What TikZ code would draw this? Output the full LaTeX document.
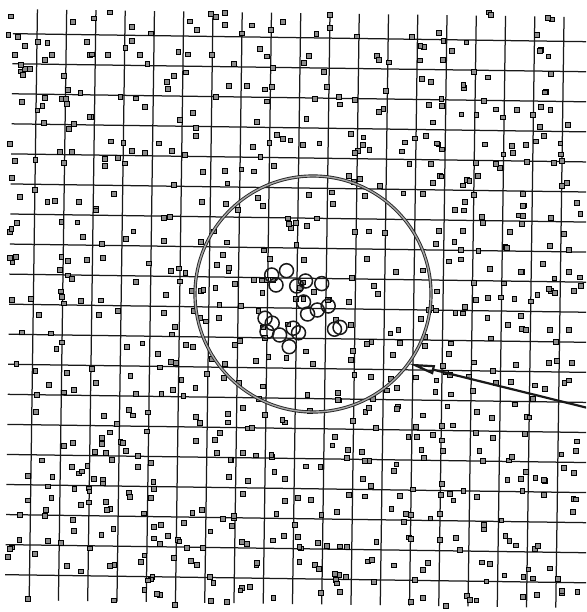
\documentclass[tikz,border=0pt]{standalone}
\usetikzlibrary{arrows.meta}

\begin{document}
\begin{tikzpicture}[x=1pt,y=-1pt,
  gridline/.style={draw=black!90,line width=1.25pt},
  speck/.style={draw=black,fill=black!45,line width=0.7pt},
  bead/.style={draw=black!90,line width=1.5pt},
  ring/.style={circle,draw=black!85,double=black!35,double distance=1.4pt,
               line width=0.9pt,minimum size=236pt,inner sep=0pt},
  pointer/.style={-{Triangle[open,length=26pt,width=9pt]},line width=2.2pt,draw=black!90}
]
\useasboundingbox (0,0) rectangle (586,612);
\clip (0,0) rectangle (586,612);

% grid, a little turned as in the scan
\begin{scope}[rotate around={-0.8:(293,306)}]
  \foreach \k in {0,...,18}
    \draw[gridline] (9,37.6+30.06*\k) -- (600,37.6+30.06*\k);
  \foreach \j in {0,...,18}
    \draw[gridline] (33.3+29.26*\j,13) -- (33.3+29.26*\j,604);
\end{scope}

% scattered specks
\pgfmathsetseed{4711}
\foreach \i in {1,...,760}{
  \pgfmathsetmacro{\sx}{6+rnd*576}
  \pgfmathsetmacro{\sy}{12+rnd*594}
  \draw[speck] (\sx-2.4,\sy-2.4) rectangle ++(4.8,4.8);
}

% cluster in the middle
\foreach \bx/\by in {271.7/275,286.5/270.7,276/285,296.7/286,305.5/281,321.7/283.6,
                    303.5/302,307.6/314,317.3/310,328.2/306,265/318.2,272.2/323.2,
                    267/331.7,279.6/335,293.2/328.2,298.5/332.8,289.2/346.7,334.5/329.2,340/327.4}
  \draw[bead] (\bx,\by) circle (7);

\node[ring] (ring) at (313,294) {};
\coordinate (tail) at (592,409);
\draw[pointer] (tail) -- (ring.-36);
\end{tikzpicture}
\end{document}
